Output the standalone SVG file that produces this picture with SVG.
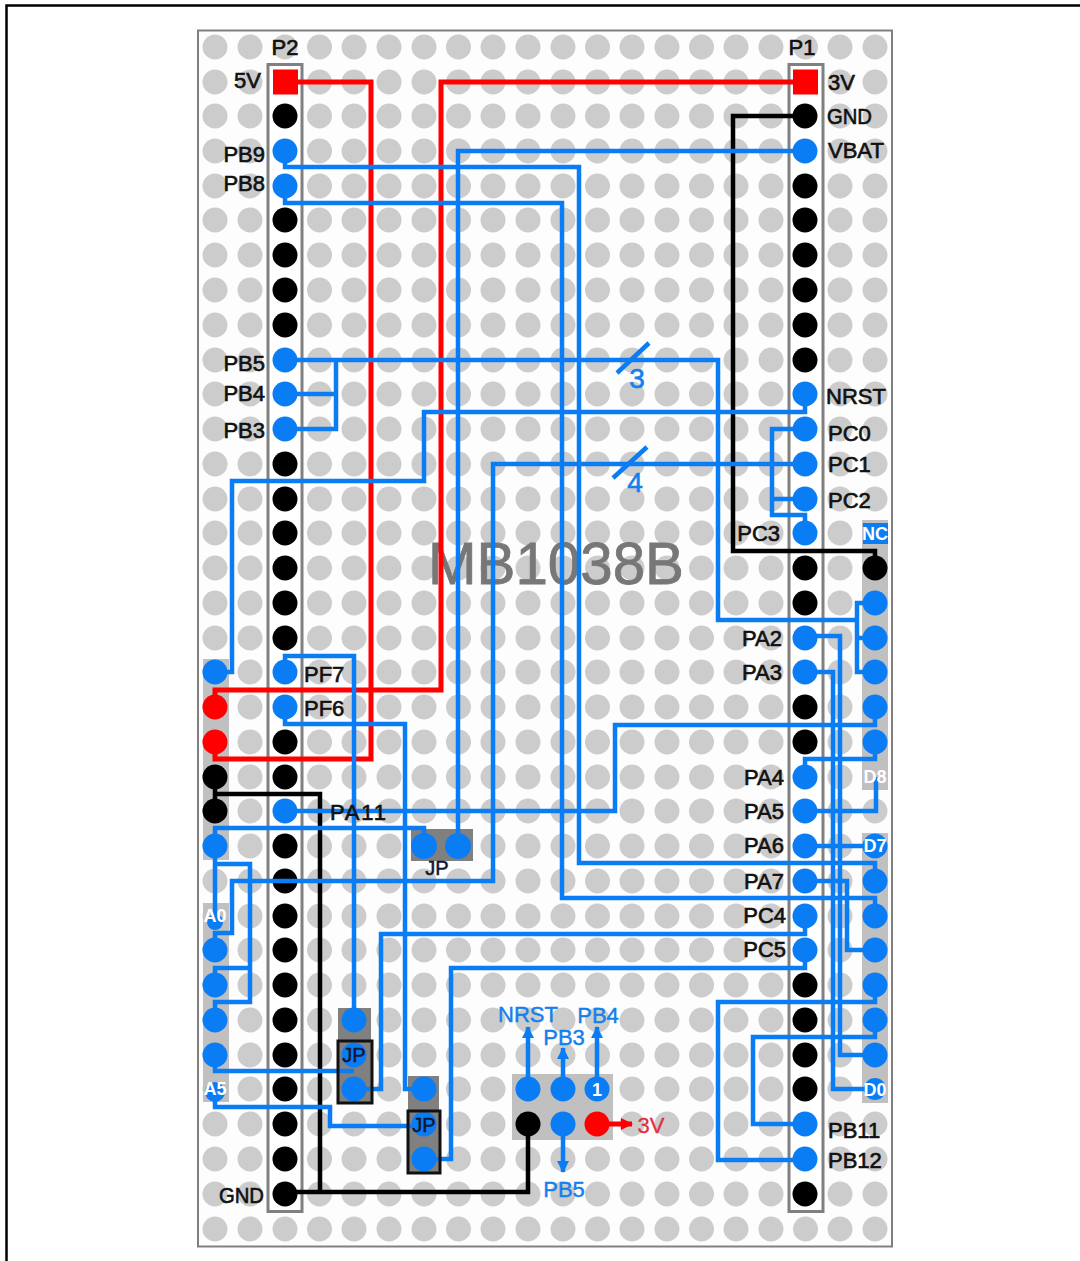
<svg xmlns="http://www.w3.org/2000/svg" xmlns:xlink="http://www.w3.org/1999/xlink" width="1080" height="1261" viewBox="0 0 1080 1261">
<style>
text{font-family:"Liberation Sans",Arial,sans-serif}
.lb{font-size:22px;fill:#111;stroke:#111;stroke-width:.65}
.e{text-anchor:end}
.m{text-anchor:middle}
.blu{font-size:22px;fill:#1480ee;stroke:#1480ee;stroke-width:.45;text-anchor:middle}
.wh{font-size:18px;font-weight:bold;fill:#fff;text-anchor:middle}
.jp{font-size:20px;fill:#101830;stroke:#101830;stroke-width:.5;text-anchor:middle}
.hole{fill:#cccccc}
.bk{fill:#000}
.bl{fill:#0a7df5}
.rd{fill:#ff0000}
.wb{fill:none;stroke:#0a7df5;stroke-width:4.5;stroke-linejoin:miter}
.wr{fill:none;stroke:#ff0000;stroke-width:5}
.wk{fill:none;stroke:#000;stroke-width:4.5}
.hdr{fill:#fff;stroke:#808080;stroke-width:3}
.blk{fill:#c0c0c0}
.jg{fill:#808080}
.jo{fill:none;stroke:#111;stroke-width:3}
</style>
<defs>
<marker id="ab" markerUnits="userSpaceOnUse" markerWidth="14" markerHeight="12" refX="11" refY="6" orient="auto"><path d="M0 0L12 6L0 12Z" fill="#0a7df5"/></marker>
<marker id="ar" markerUnits="userSpaceOnUse" markerWidth="14" markerHeight="12" refX="11" refY="6" orient="auto"><path d="M0 0L12 6L0 12Z" fill="#ff0000"/></marker>
<g id="hr">
<circle class="hole" cx="215" r="12.5"/><circle class="hole" cx="250" r="12.5"/><circle class="hole" cx="285" r="12.5"/><circle class="hole" cx="319.5" r="12.5"/><circle class="hole" cx="354" r="12.5"/><circle class="hole" cx="389" r="12.5"/><circle class="hole" cx="424" r="12.5"/><circle class="hole" cx="458.500" r="12.5"/><circle class="hole" cx="493" r="12.5"/><circle class="hole" cx="528" r="12.5"/><circle class="hole" cx="563" r="12.5"/><circle class="hole" cx="597.500" r="12.5"/><circle class="hole" cx="632" r="12.5"/><circle class="hole" cx="667" r="12.5"/><circle class="hole" cx="701.500" r="12.5"/><circle class="hole" cx="736" r="12.5"/><circle class="hole" cx="771" r="12.5"/><circle class="hole" cx="805.500" r="12.5"/><circle class="hole" cx="840" r="12.5"/><circle class="hole" cx="875" r="12.5"/>
</g>
</defs>
<rect width="1080" height="1261" fill="#fff"/>
<path d="M1080 5.500H6.500V1261" fill="none" stroke="#000" stroke-width="2.500"/>
<g id="board">
<rect x="198" y="30.500" width="694" height="1216" fill="#fdfdfd" stroke="#808080" stroke-width="2"/>
<use xlink:href="#hr" y="47"/><use xlink:href="#hr" y="82"/><use xlink:href="#hr" y="116"/><use xlink:href="#hr" y="151"/><use xlink:href="#hr" y="186"/><use xlink:href="#hr" y="220"/><use xlink:href="#hr" y="255"/><use xlink:href="#hr" y="290"/><use xlink:href="#hr" y="325"/><use xlink:href="#hr" y="360"/><use xlink:href="#hr" y="394"/><use xlink:href="#hr" y="429"/><use xlink:href="#hr" y="464"/><use xlink:href="#hr" y="499"/><use xlink:href="#hr" y="533"/><use xlink:href="#hr" y="568"/><use xlink:href="#hr" y="603"/><use xlink:href="#hr" y="638"/><use xlink:href="#hr" y="672"/><use xlink:href="#hr" y="707"/><use xlink:href="#hr" y="742"/><use xlink:href="#hr" y="777"/><use xlink:href="#hr" y="811"/><use xlink:href="#hr" y="846"/><use xlink:href="#hr" y="881"/><use xlink:href="#hr" y="916"/><use xlink:href="#hr" y="950"/><use xlink:href="#hr" y="985"/><use xlink:href="#hr" y="1020"/><use xlink:href="#hr" y="1055"/><use xlink:href="#hr" y="1089"/><use xlink:href="#hr" y="1124"/><use xlink:href="#hr" y="1159"/><use xlink:href="#hr" y="1194"/><use xlink:href="#hr" y="1229"/>
</g>
<g id="strips">
<rect class="hdr" x="268" y="64.500" width="34" height="1147"/>
<rect class="hdr" x="789" y="64.500" width="34" height="1147"/>
<rect class="blk" x="203" y="659" width="26" height="201"/>
<rect class="blk" x="203" y="903" width="26" height="199"/>
<rect class="blk" x="862" y="520" width="26" height="270"/>
<rect class="blk" x="862" y="833" width="26" height="270"/>
<rect class="jg" x="411" y="829" width="62" height="32"/>
<rect class="jg" x="338" y="1008" width="33" height="95"/>
<rect class="jg" x="408" y="1076" width="31" height="97"/>
<rect class="blk" x="512" y="1074" width="101" height="66"/>
</g>
<text id="board-title" x="556" y="584" font-size="60" fill="#777" stroke="#777" stroke-width=".8" text-anchor="middle" textLength="256" lengthAdjust="spacingAndGlyphs">MB1038B</text>
<g id="p2-r24"><circle class="bk" cx="285" cy="881" r="12.5"/></g>
<g id="connectors">
<path class="wr" d="M285 82H371V759H215V742"/>
<path class="wr" d="M805 82H441V690H215V707"/>
<path class="wk" d="M805 116H733V551H875V568"/>
<path class="wk" d="M215 777V811M215 794H320V1192"/>
<path class="wk" d="M285 1192H528V1124"/>
<path class="wb" d="M285 151V167H579V863H875V881"/>
<path class="wb" d="M285 186V203H562V898H875V916"/>
<path class="wb" d="M805 151H458V846"/>
<path class="wb" d="M285 360H718V620H857M875 603H857V672H875M857 638H875"/>
<path class="wb" d="M285 394H336M285 429H336V360"/>
<path class="wb" d="M805 394V412H424V481H232V672H215"/>
<path class="wb" d="M805 464H493V881H232V933H215V950"/>
<path class="wb" d="M805 429H772V515H805V533M772 499H805"/>
<path class="wb" d="M215 846V864H250V1002H215V1020M250 968H215V985M215 864V916"/>
<path class="wb" d="M285 672V656H354V1020"/>
<path class="wb" d="M285 707V724H405V1089H424"/>
<path class="wb" d="M285 811H615V725H875V707"/>
<path class="wb" d="M215 846V828H424V846"/>
<path class="wb" d="M805 777V759H875V742"/>
<path class="wb" d="M805 811H876V777"/>
<path class="wb" d="M805 846H875"/>
<path class="wb" d="M805 881H847V950H875"/>
<path class="wb" d="M805 636H840V1055H875"/>
<path class="wb" d="M805 672H833V1089H875"/>
<path class="wb" d="M805 916V934H381V1089H354"/>
<path class="wb" d="M805 950V968H451V1159H424"/>
<path class="wb" d="M215 1055V1071H354"/>
<path class="wb" d="M215 1089V1107H330V1126H424"/>
<path class="wb" d="M875 985V1002H718V1160H805"/>
<path class="wb" d="M875 1020V1037H753V1124H805"/>
<path class="wb" d="M617 373L649 343M613 478L647 447"/>
<path class="wb" marker-end="url(#ab)" d="M528 1089V1027"/>
<path class="wb" marker-end="url(#ab)" d="M563 1089V1048"/>
<path class="wb" marker-end="url(#ab)" d="M597 1089V1027"/>
<path class="wb" marker-end="url(#ab)" d="M563 1124V1172"/>
<path class="wr" marker-end="url(#ar)" d="M597 1124H632"/>
</g>
<g id="bus-labels">
<text x="637" y="388" font-size="28" fill="#1480ee" stroke="#1480ee" stroke-width=".6" text-anchor="middle">3</text>
<text x="635" y="492" font-size="28" fill="#1480ee" stroke="#1480ee" stroke-width=".6" text-anchor="middle">4</text>
</g>
<g id="P2">
<text class="lb m" x="285" y="55">P2</text>
<g id="p2-5V"><rect class="rd" x="273" y="69.500" width="25" height="25"/><text class="lb e" x="261" y="88">5V</text></g>
<g id="p2-r2"><circle class="bk" cx="285" cy="116" r="12.5"/></g>
<g id="p2-PB9"><circle class="bl" cx="285" cy="151" r="12.5"/><text class="lb e" x="265" y="162">PB9</text></g>
<g id="p2-PB8"><circle class="bl" cx="285" cy="186" r="12.5"/><text class="lb e" x="265" y="191">PB8</text></g>
<g id="p2-r5"><circle class="bk" cx="285" cy="220" r="12.5"/></g>
<g id="p2-r6"><circle class="bk" cx="285" cy="255" r="12.5"/></g>
<g id="p2-r7"><circle class="bk" cx="285" cy="290" r="12.5"/></g>
<g id="p2-r8"><circle class="bk" cx="285" cy="325" r="12.5"/></g>
<g id="p2-PB5"><circle class="bl" cx="285" cy="360" r="12.5"/><text class="lb e" x="265" y="371">PB5</text></g>
<g id="p2-PB4"><circle class="bl" cx="285" cy="394" r="12.5"/><text class="lb e" x="265" y="401">PB4</text></g>
<g id="p2-PB3"><circle class="bl" cx="285" cy="429" r="12.5"/><text class="lb e" x="265" y="438">PB3</text></g>
<g id="p2-r12"><circle class="bk" cx="285" cy="464" r="12.5"/></g>
<g id="p2-r13"><circle class="bk" cx="285" cy="499" r="12.5"/></g>
<g id="p2-r14"><circle class="bk" cx="285" cy="533" r="12.5"/></g>
<g id="p2-r15"><circle class="bk" cx="285" cy="568" r="12.5"/></g>
<g id="p2-r16"><circle class="bk" cx="285" cy="603" r="12.5"/></g>
<g id="p2-r17"><circle class="bk" cx="285" cy="638" r="12.5"/></g>
<g id="p2-PF7"><circle class="bl" cx="285" cy="672" r="12.5"/><text class="lb" x="304" y="682">PF7</text></g>
<g id="p2-PF6"><circle class="bl" cx="285" cy="707" r="12.5"/><text class="lb" x="304" y="716">PF6</text></g>
<g id="p2-r20"><circle class="bk" cx="285" cy="742" r="12.5"/></g>
<g id="p2-r21"><circle class="bk" cx="285" cy="777" r="12.5"/></g>
<g id="p2-PA11"><circle class="bl" cx="285" cy="811" r="12.5"/><text class="lb" x="330" y="820" textLength="56">PA11</text></g>
<g id="p2-r23"><circle class="bk" cx="285" cy="846" r="12.5"/></g>
<g id="p2-r25"><circle class="bk" cx="285" cy="916" r="12.5"/></g>
<g id="p2-r26"><circle class="bk" cx="285" cy="950" r="12.5"/></g>
<g id="p2-r27"><circle class="bk" cx="285" cy="985" r="12.5"/></g>
<g id="p2-r28"><circle class="bk" cx="285" cy="1020" r="12.5"/></g>
<g id="p2-r29"><circle class="bk" cx="285" cy="1055" r="12.5"/></g>
<g id="p2-r30"><circle class="bk" cx="285" cy="1089" r="12.5"/></g>
<g id="p2-r31"><circle class="bk" cx="285" cy="1124" r="12.5"/></g>
<g id="p2-r32"><circle class="bk" cx="285" cy="1159" r="12.5"/></g>
<g id="p2-GND"><circle class="bk" cx="285" cy="1194" r="12.5"/><text class="lb" x="219" y="1203" textLength="45" lengthAdjust="spacingAndGlyphs">GND</text></g>
</g>
<g id="P1">
<text class="lb m" x="802" y="55">P1</text>
<g id="p1-3V"><rect class="rd" x="793" y="69.500" width="25" height="25"/><text class="lb" x="828" y="90">3V</text></g>
<g id="p1-GND"><circle class="bk" cx="805" cy="116" r="12.5"/><text class="lb" x="827" y="124" textLength="45" lengthAdjust="spacingAndGlyphs">GND</text></g>
<g id="p1-VBAT"><circle class="bl" cx="805" cy="151" r="12.5"/><text class="lb" x="828" y="158">VBAT</text></g>
<g id="p1-r4"><circle class="bk" cx="805" cy="186" r="12.5"/></g>
<g id="p1-r5"><circle class="bk" cx="805" cy="220" r="12.5"/></g>
<g id="p1-r6"><circle class="bk" cx="805" cy="255" r="12.5"/></g>
<g id="p1-r7"><circle class="bk" cx="805" cy="290" r="12.5"/></g>
<g id="p1-r8"><circle class="bk" cx="805" cy="325" r="12.5"/></g>
<g id="p1-r9"><circle class="bk" cx="805" cy="360" r="12.5"/></g>
<g id="p1-NRST"><circle class="bl" cx="805" cy="394" r="12.5"/><text class="lb" x="826" y="404">NRST</text></g>
<g id="p1-PC0"><circle class="bl" cx="805" cy="429" r="12.5"/><text class="lb" x="828" y="441">PC0</text></g>
<g id="p1-PC1"><circle class="bl" cx="805" cy="464" r="12.5"/><text class="lb" x="828" y="472">PC1</text></g>
<g id="p1-PC2"><circle class="bl" cx="805" cy="499" r="12.5"/><text class="lb" x="828" y="508">PC2</text></g>
<g id="p1-PC3"><circle class="bl" cx="805" cy="533" r="12.5"/><text class="lb e" x="780" y="541">PC3</text></g>
<g id="p1-r15"><circle class="bk" cx="805" cy="568" r="12.5"/></g>
<g id="p1-r16"><circle class="bk" cx="805" cy="603" r="12.5"/></g>
<g id="p1-PA2"><circle class="bl" cx="805" cy="638" r="12.5"/><text class="lb e" x="782" y="646">PA2</text></g>
<g id="p1-PA3"><circle class="bl" cx="805" cy="672" r="12.5"/><text class="lb e" x="782" y="680">PA3</text></g>
<g id="p1-r19"><circle class="bk" cx="805" cy="707" r="12.5"/></g>
<g id="p1-r20"><circle class="bk" cx="805" cy="742" r="12.5"/></g>
<g id="p1-PA4"><circle class="bl" cx="805" cy="777" r="12.5"/><text class="lb e" x="784" y="785">PA4</text></g>
<g id="p1-PA5"><circle class="bl" cx="805" cy="811" r="12.5"/><text class="lb e" x="784" y="819">PA5</text></g>
<g id="p1-PA6"><circle class="bl" cx="805" cy="846" r="12.5"/><text class="lb e" x="784" y="853">PA6</text></g>
<g id="p1-PA7"><circle class="bl" cx="805" cy="881" r="12.5"/><text class="lb e" x="784" y="889">PA7</text></g>
<g id="p1-PC4"><circle class="bl" cx="805" cy="916" r="12.5"/><text class="lb e" x="786" y="923">PC4</text></g>
<g id="p1-PC5"><circle class="bl" cx="805" cy="950" r="12.5"/><text class="lb e" x="786" y="957">PC5</text></g>
<g id="p1-r27"><circle class="bk" cx="805" cy="985" r="12.5"/></g>
<g id="p1-r28"><circle class="bk" cx="805" cy="1020" r="12.5"/></g>
<g id="p1-r29"><circle class="bk" cx="805" cy="1055" r="12.5"/></g>
<g id="p1-r30"><circle class="bk" cx="805" cy="1089" r="12.5"/></g>
<g id="p1-PB11"><circle class="bl" cx="805" cy="1124" r="12.5"/><text class="lb" x="828" y="1138">PB11</text></g>
<g id="p1-PB12"><circle class="bl" cx="805" cy="1159" r="12.5"/><text class="lb" x="828" y="1168">PB12</text></g>
<g id="p1-r33"><circle class="bk" cx="805" cy="1194" r="12.5"/></g>
</g>
<g id="left-connector">
<g id="cn-l18"><circle class="bl" cx="215" cy="672" r="12.5"/></g>
<g id="cn-l19"><circle class="rd" cx="215" cy="707" r="12.5"/></g>
<g id="cn-l20"><circle class="rd" cx="215" cy="742" r="12.5"/></g>
<g id="cn-l21"><circle class="bk" cx="215" cy="777" r="12.5"/></g>
<g id="cn-l22"><circle class="bk" cx="215" cy="811" r="12.5"/></g>
<g id="cn-l23"><circle class="bl" cx="215" cy="846" r="12.5"/></g>
<g id="cn-A0"><circle class="bl" cx="215" cy="922" r="8"/><text class="wh" x="215" y="922">A0</text></g>
<g id="cn-l26"><circle class="bl" cx="215" cy="950" r="12.5"/></g>
<g id="cn-l27"><circle class="bl" cx="215" cy="985" r="12.5"/></g>
<g id="cn-l28"><circle class="bl" cx="215" cy="1020" r="12.5"/></g>
<g id="cn-l29"><circle class="bl" cx="215" cy="1055" r="12.5"/></g>
<g id="cn-A5"><circle class="bl" cx="215" cy="1092" r="10"/><text class="wh" x="215" y="1095">A5</text></g>
</g>
<g id="right-connector">
<g id="cn-NC"><rect class="bl" x="863" y="523" width="25" height="21"/><text class="wh" x="875" y="540">NC</text></g>
<g id="cn-r15"><circle class="bk" cx="875" cy="568" r="12.5"/></g>
<g id="cn-r16"><circle class="bl" cx="875" cy="603" r="12.5"/></g>
<g id="cn-r17"><circle class="bl" cx="875" cy="638" r="12.5"/></g>
<g id="cn-r18"><circle class="bl" cx="875" cy="672" r="12.5"/></g>
<g id="cn-r19"><circle class="bl" cx="875" cy="707" r="12.5"/></g>
<g id="cn-r20"><circle class="bl" cx="875" cy="742" r="12.5"/></g>
<g id="cn-D8"><text class="wh" x="875" y="783">D8</text></g>
<g id="cn-D7"><circle class="bl" cx="875" cy="846" r="12.5"/><text class="wh" x="875" y="852">D7</text></g>
<g id="cn-r24"><circle class="bl" cx="875" cy="881" r="12.5"/></g>
<g id="cn-r25"><circle class="bl" cx="875" cy="916" r="12.5"/></g>
<g id="cn-r26"><circle class="bl" cx="875" cy="950" r="12.5"/></g>
<g id="cn-r27"><circle class="bl" cx="875" cy="985" r="12.5"/></g>
<g id="cn-r28"><circle class="bl" cx="875" cy="1020" r="12.5"/></g>
<g id="cn-r29"><circle class="bl" cx="875" cy="1055" r="12.5"/></g>
<g id="cn-D0"><circle class="bl" cx="875" cy="1089" r="11"/><text class="wh" x="875" y="1096">D0</text></g>
</g>
<g id="jumper-top">
<circle class="bl" cx="424" cy="846" r="13"/><circle class="bl" cx="458" cy="846" r="13"/>
<text class="jp" x="437" y="875">JP</text>
</g>
<g id="jumper-mid">
<circle class="bl" cx="354" cy="1020" r="12.5"/><circle class="bl" cx="354" cy="1055" r="12.5"/><circle class="bl" cx="354" cy="1089" r="12.5"/>
<rect class="jo" x="338" y="1041" width="34" height="62"/>
<text class="jp" x="354" y="1062">JP</text>
</g>
<g id="jumper-low">
<circle class="bl" cx="424" cy="1089" r="12.5"/><circle class="bl" cx="424" cy="1124" r="12.5"/><circle class="bl" cx="424" cy="1159" r="12.5"/>
<rect class="jo" x="408" y="1111" width="32" height="62"/>
<text class="jp" x="424" y="1132">JP</text>
</g>
<g id="jtag">
<g id="jt-NRST"><circle class="bl" cx="528" cy="1089" r="12.5"/><text class="blu" x="528" y="1022">NRST</text></g>
<g id="jt-PB3"><circle class="bl" cx="563" cy="1089" r="12.5"/><text class="blu" x="564" y="1045">PB3</text></g>
<g id="jt-PB4"><circle class="bl" cx="597" cy="1089" r="12.5"/><text class="wh" x="597" y="1096">1</text><text class="blu" x="598" y="1023">PB4</text></g>
<g id="jt-GND"><circle class="bk" cx="528" cy="1124" r="12.5"/></g>
<g id="jt-PB5"><circle class="bl" cx="563" cy="1124" r="12.5"/><text class="blu" x="564" y="1197">PB5</text></g>
<g id="jt-3V"><circle class="rd" cx="597" cy="1124" r="12.5"/><text x="651" y="1133" font-size="22" fill="#e03040" stroke="#e03040" stroke-width=".3" text-anchor="middle">3V</text></g>
</g>
</svg>
